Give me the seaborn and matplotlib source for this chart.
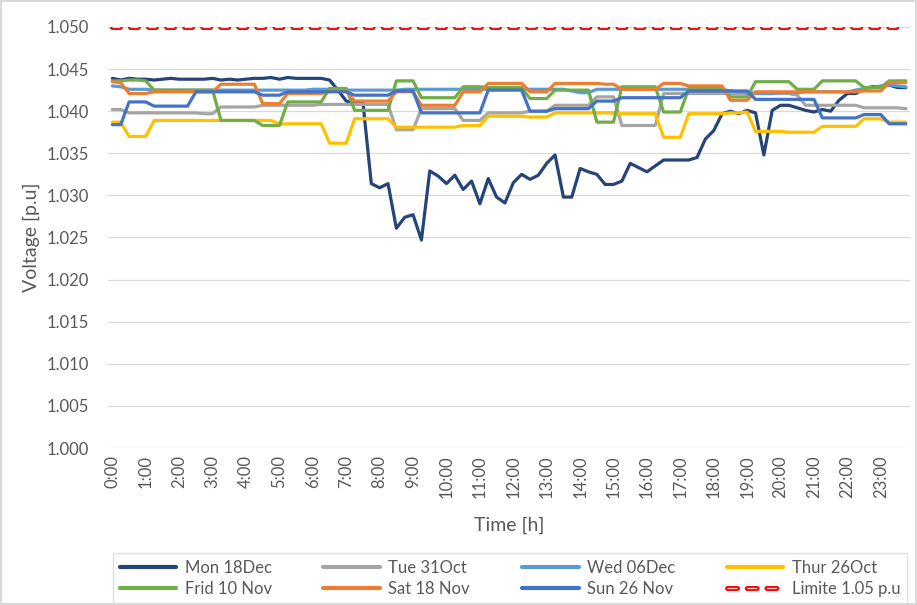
import numpy as np
import pandas as pd
import seaborn as sns
import matplotlib.pyplot as plt
from matplotlib.lines import Line2D

# 15-minute steps over one day, hourly tick labels
hour_labels = ["0:00", "1:00", "2:00", "3:00", "4:00", "5:00", "6:00", "7:00",
               "8:00", "9:00", "10:00", "11:00", "12:00", "13:00", "14:00", "15:00",
               "16:00", "17:00", "18:00", "19:00", "20:00", "21:00", "22:00", "23:00"]

mon = [1.0439, 1.0437, 1.0439, 1.0438, 1.0438, 1.0437, 1.0438, 1.0439, 1.0438, 1.0438, 1.0438, 1.0438, 1.0439, 1.0437, 1.0438, 1.0437,
       1.0438, 1.0439, 1.0439, 1.0440, 1.0438, 1.0440, 1.0439, 1.0439, 1.0439, 1.0439, 1.0437, 1.0425, 1.0412, 1.0410, 1.0410, 1.0314,
       1.0309, 1.0314, 1.0261, 1.0274, 1.0277, 1.0247, 1.0329, 1.0323, 1.0314, 1.0324, 1.0307, 1.0317, 1.0290, 1.0320, 1.0298, 1.0291,
       1.0315, 1.0325, 1.0319, 1.0324, 1.0338, 1.0348, 1.0298, 1.0298, 1.0332, 1.0328, 1.0325, 1.0313, 1.0313, 1.0317, 1.0338, 1.0333,
       1.0328, 1.0335, 1.0342, 1.0342, 1.0342, 1.0342, 1.0345, 1.0367, 1.0377, 1.0397, 1.0400, 1.0397, 1.0401, 1.0398, 1.0348, 1.0401,
       1.0407, 1.0407, 1.0404, 1.0401, 1.0399, 1.0402, 1.0400, 1.0413, 1.0421, 1.0421, 1.0427, 1.0429, 1.0429, 1.0431, 1.0428, 1.0428]

tue = [1.0402, 1.0402, 1.0398, 1.0398, 1.0398, 1.0398, 1.0398, 1.0398, 1.0398, 1.0398, 1.0398, 1.0397, 1.0397, 1.0405, 1.0405, 1.0405,
       1.0405, 1.0405, 1.0407, 1.0407, 1.0407, 1.0407, 1.0407, 1.0407, 1.0407, 1.0408, 1.0408, 1.0408, 1.0408, 1.0408, 1.0408, 1.0408,
       1.0408, 1.0408, 1.0378, 1.0378, 1.0378, 1.0403, 1.0403, 1.0403, 1.0403, 1.0403, 1.0389, 1.0389, 1.0389, 1.0398, 1.0398, 1.0398,
       1.0398, 1.0398, 1.0400, 1.0400, 1.0400, 1.0407, 1.0407, 1.0407, 1.0407, 1.0407, 1.0417, 1.0417, 1.0417, 1.0383, 1.0383, 1.0383,
       1.0383, 1.0383, 1.0421, 1.0421, 1.0421, 1.0421, 1.0421, 1.0421, 1.0421, 1.0421, 1.0421, 1.0421, 1.0421, 1.0421, 1.0421, 1.0421,
       1.0421, 1.0421, 1.0419, 1.0407, 1.0407, 1.0407, 1.0407, 1.0407, 1.0407, 1.0407, 1.0404, 1.0404, 1.0404, 1.0404, 1.0404, 1.0403]

wed = [1.0430, 1.0429, 1.0426, 1.0426, 1.0426, 1.0425, 1.0425, 1.0425, 1.0425, 1.0425, 1.0425, 1.0425, 1.0425, 1.0425, 1.0425, 1.0425,
       1.0425, 1.0425, 1.0425, 1.0425, 1.0425, 1.0425, 1.0425, 1.0425, 1.0426, 1.0426, 1.0426, 1.0425, 1.0425, 1.0425, 1.0425, 1.0425,
       1.0425, 1.0425, 1.0425, 1.0426, 1.0426, 1.0426, 1.0426, 1.0426, 1.0426, 1.0426, 1.0426, 1.0426, 1.0426, 1.0426, 1.0426, 1.0426,
       1.0426, 1.0426, 1.0426, 1.0426, 1.0426, 1.0426, 1.0426, 1.0424, 1.0422, 1.0422, 1.0426, 1.0426, 1.0426, 1.0426, 1.0426, 1.0426,
       1.0426, 1.0426, 1.0426, 1.0426, 1.0426, 1.0426, 1.0426, 1.0426, 1.0426, 1.0426, 1.0424, 1.0423, 1.0423, 1.0421, 1.0421, 1.0421,
       1.0422, 1.0422, 1.0422, 1.0423, 1.0423, 1.0423, 1.0423, 1.0423, 1.0423, 1.0425, 1.0427, 1.0428, 1.0430, 1.0431, 1.0430, 1.0429]

thu = [1.0387, 1.0387, 1.0370, 1.0370, 1.0370, 1.0389, 1.0389, 1.0389, 1.0389, 1.0389, 1.0389, 1.0389, 1.0389, 1.0389, 1.0389, 1.0389,
       1.0389, 1.0389, 1.0389, 1.0389, 1.0385, 1.0385, 1.0385, 1.0385, 1.0385, 1.0385, 1.0362, 1.0362, 1.0362, 1.0391, 1.0391, 1.0391,
       1.0391, 1.0391, 1.0381, 1.0381, 1.0381, 1.0381, 1.0381, 1.0381, 1.0381, 1.0381, 1.0383, 1.0383, 1.0383, 1.0394, 1.0394, 1.0394,
       1.0394, 1.0394, 1.0393, 1.0393, 1.0393, 1.0398, 1.0398, 1.0398, 1.0398, 1.0398, 1.0398, 1.0398, 1.0398, 1.0397, 1.0397, 1.0397,
       1.0397, 1.0397, 1.0369, 1.0369, 1.0369, 1.0397, 1.0397, 1.0397, 1.0397, 1.0397, 1.0398, 1.0398, 1.0399, 1.0376, 1.0376, 1.0376,
       1.0376, 1.0375, 1.0375, 1.0375, 1.0375, 1.0382, 1.0382, 1.0382, 1.0382, 1.0382, 1.0391, 1.0391, 1.0391, 1.0387, 1.0387, 1.0387]

fri = [1.0436, 1.0436, 1.0437, 1.0437, 1.0436, 1.0425, 1.0425, 1.0425, 1.0425, 1.0425, 1.0425, 1.0425, 1.0425, 1.0389, 1.0389, 1.0389,
       1.0389, 1.0389, 1.0383, 1.0383, 1.0383, 1.0411, 1.0411, 1.0411, 1.0411, 1.0411, 1.0427, 1.0427, 1.0427, 1.0401, 1.0401, 1.0401,
       1.0401, 1.0401, 1.0436, 1.0436, 1.0436, 1.0416, 1.0416, 1.0416, 1.0416, 1.0416, 1.0429, 1.0429, 1.0429, 1.0428, 1.0428, 1.0428,
       1.0428, 1.0428, 1.0415, 1.0415, 1.0415, 1.0425, 1.0425, 1.0425, 1.0425, 1.0425, 1.0387, 1.0387, 1.0387, 1.0429, 1.0429, 1.0429,
       1.0429, 1.0429, 1.0399, 1.0399, 1.0399, 1.0427, 1.0427, 1.0427, 1.0427, 1.0427, 1.0417, 1.0417, 1.0417, 1.0435, 1.0435, 1.0435,
       1.0435, 1.0435, 1.0426, 1.0426, 1.0426, 1.0436, 1.0436, 1.0436, 1.0436, 1.0436, 1.0428, 1.0428, 1.0428, 1.0436, 1.0436, 1.0436]

sat = [1.0435, 1.0434, 1.0421, 1.0421, 1.0421, 1.0423, 1.0423, 1.0423, 1.0423, 1.0423, 1.0423, 1.0423, 1.0423, 1.0432, 1.0432, 1.0432,
       1.0432, 1.0432, 1.0409, 1.0409, 1.0409, 1.0421, 1.0421, 1.0421, 1.0421, 1.0421, 1.0424, 1.0424, 1.0424, 1.0412, 1.0412, 1.0412,
       1.0412, 1.0412, 1.0423, 1.0423, 1.0423, 1.0407, 1.0407, 1.0407, 1.0407, 1.0407, 1.0423, 1.0423, 1.0423, 1.0433, 1.0433, 1.0433,
       1.0433, 1.0433, 1.0423, 1.0423, 1.0423, 1.0433, 1.0433, 1.0433, 1.0433, 1.0433, 1.0433, 1.0432, 1.0432, 1.0426, 1.0426, 1.0426,
       1.0426, 1.0426, 1.0433, 1.0433, 1.0433, 1.0430, 1.0430, 1.0430, 1.0430, 1.0430, 1.0413, 1.0413, 1.0413, 1.0423, 1.0423, 1.0423,
       1.0423, 1.0423, 1.0423, 1.0423, 1.0423, 1.0423, 1.0423, 1.0423, 1.0423, 1.0423, 1.0424, 1.0424, 1.0424, 1.0434, 1.0434, 1.0434]

sun = [1.0384, 1.0384, 1.0411, 1.0411, 1.0411, 1.0406, 1.0406, 1.0406, 1.0406, 1.0406, 1.0423, 1.0423, 1.0423, 1.0423, 1.0423, 1.0423,
       1.0423, 1.0423, 1.0419, 1.0419, 1.0419, 1.0423, 1.0423, 1.0423, 1.0423, 1.0423, 1.0423, 1.0423, 1.0423, 1.0419, 1.0419, 1.0419,
       1.0419, 1.0419, 1.0424, 1.0424, 1.0424, 1.0398, 1.0398, 1.0398, 1.0398, 1.0398, 1.0398, 1.0398, 1.0398, 1.0425, 1.0425, 1.0425,
       1.0425, 1.0425, 1.0400, 1.0400, 1.0400, 1.0403, 1.0403, 1.0403, 1.0403, 1.0403, 1.0412, 1.0412, 1.0412, 1.0416, 1.0416, 1.0416,
       1.0416, 1.0416, 1.0416, 1.0416, 1.0416, 1.0424, 1.0424, 1.0424, 1.0424, 1.0424, 1.0424, 1.0424, 1.0424, 1.0414, 1.0414, 1.0414,
       1.0414, 1.0414, 1.0414, 1.0414, 1.0414, 1.0392, 1.0392, 1.0392, 1.0392, 1.0392, 1.0396, 1.0396, 1.0396, 1.0385, 1.0385, 1.0385]

limit = 1.05

days = ["Mon 18Dec", "Tue 31Oct", "Wed 06Dec", "Thur 26Oct", "Frid 10 Nov", "Sat 18 Nov", "Sun 26 Nov"]
colors = ["#264478", "#A5A5A5", "#5B9BD5", "#FFC000", "#70AD47", "#ED7D31", "#4472C4"]

df = pd.DataFrame({"step": np.arange(len(mon)), days[0]: mon, days[1]: tue, days[2]: wed,
                   days[3]: thu, days[4]: fri, days[5]: sat, days[6]: sun})
long = df.melt(id_vars="step", var_name="day", value_name="v")

sns.set_style("white")
plt.rcParams["font.family"] = ["Lato", "DejaVu Sans"]
txt = "#595959"

fig = plt.figure(figsize=(9.17, 6.05), dpi=100, edgecolor="#D9D9D9", linewidth=1.5)
ax = fig.add_axes([0.118, 0.2595, 0.8744, 0.6959])

sns.lineplot(data=long, x="step", y="v", hue="day", hue_order=days, palette=colors,
             linewidth=2.3, legend=False, ax=ax)

# limit line: red pill dashes with a pale centre
plt.rcParams["lines.scale_dashes"] = False
dash = (5.6, 7.4)
lim_y = [limit] * len(mon)
ax.plot(df["step"], lim_y, color="#FF0000", lw=3.6, dashes=dash,
        dash_capstyle="round", zorder=5)
ax.plot(df["step"], lim_y, color="#FFC9C9", lw=0.9, dashes=dash,
        dash_capstyle="butt", zorder=6)

ax.set_xlim(-0.5, len(mon) - 0.5)
ax.set_ylim(1.0, 1.05)
yt = np.arange(1.0, 1.0501, 0.005)
ax.set_yticks(yt)
ax.set_yticklabels([f"{t:.3f}" for t in yt])
ax.set_xticks(np.arange(0, len(mon), 4))
ax.set_xticklabels(hour_labels, rotation=90)
ax.yaxis.grid(True, color="#D9D9D9", lw=0.9)
ax.set_axisbelow(True)
for s in ax.spines.values():
    s.set_visible(False)
ax.tick_params(axis="both", length=0, colors=txt, labelsize=12)
ax.tick_params(axis="y", pad=14)
ax.tick_params(axis="x", pad=5)

ax.set_xlabel("Time [h]", fontsize=14, color=txt)
ax.set_ylabel("Voltage [p.u]", fontsize=14, color=txt)
ax.xaxis.set_label_coords(0.5, -0.162)
ax.yaxis.set_label_coords(-0.085, 0.5)

# legend filled row by row like the original (4 columns, 2 rows)
proxies = [Line2D([], [], color=c, lw=3) for c in colors]
leg_dash = (7.2, 7.0)
lim_handle = (Line2D([], [], color="#FF0000", lw=3.6, dashes=leg_dash, dash_capstyle="round"),
              Line2D([], [], color="#FFC9C9", lw=0.9, dashes=leg_dash, dash_capstyle="butt"))
handles = proxies + [lim_handle]
labels = days + ["Limite 1.05 p.u"]
order = [0, 4, 1, 5, 2, 6, 3, 7]
fig.legend([handles[i] for i in order], [labels[i] for i in order],
           loc="upper left", bbox_to_anchor=(0.1232, 0.0066, 0.866, 0.0794), mode="expand",
           ncol=4, frameon=True, fancybox=False, edgecolor="#D9D9D9", fontsize=12,
           handlelength=3.4, handletextpad=0.5, labelspacing=0.3, borderaxespad=0,
           labelcolor=txt)

fig.savefig("out.png", dpi=100)
